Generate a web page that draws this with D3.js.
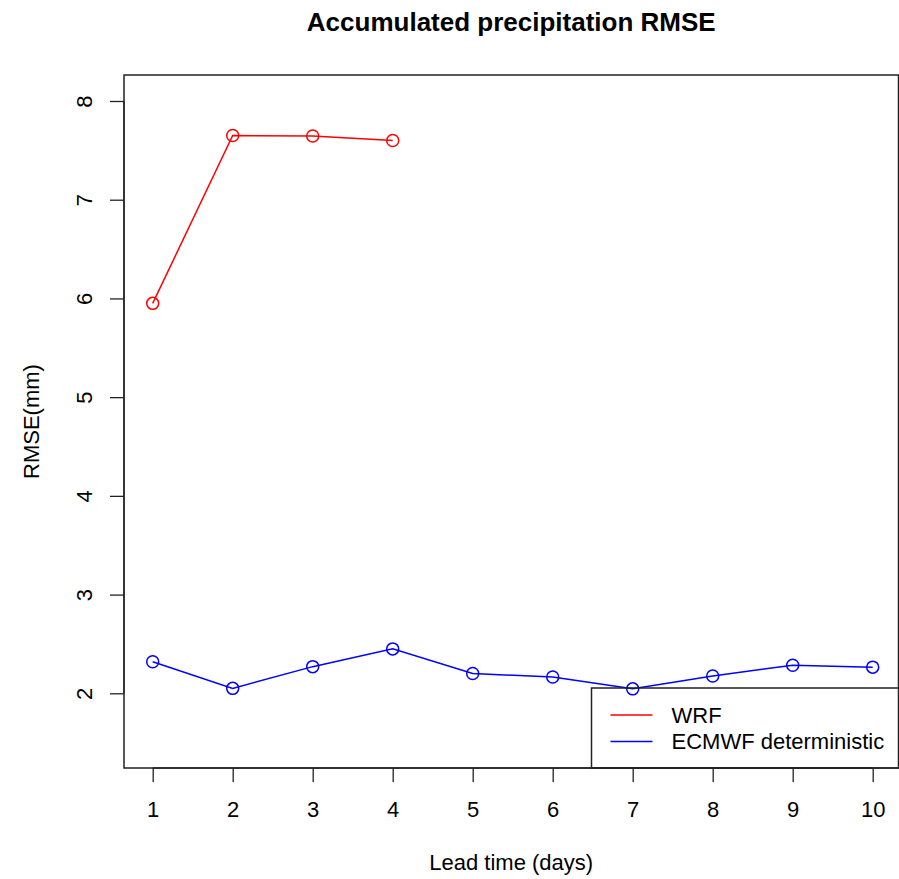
<!DOCTYPE html>
<html>
<head>
<meta charset="utf-8">
<script src="https://cdn.jsdelivr.net/npm/d3@7"></script>
<style>
  body { margin: 0; background: #fff; }
  svg text { font-family: "Liberation Sans", Arial, Helvetica, sans-serif; fill: #000; }
</style>
</head>
<body>
<svg id="chart" width="899" height="879"></svg>
<script>
// lead time in days
var leadDays = [1, 2, 3, 4, 5, 6, 7, 8, 9, 10];
var wrfRmse = [5.95, 7.65, 7.645, 7.60];
var ecmwfRmse = [2.32, 2.05, 2.27, 2.45, 2.20, 2.165, 2.045, 2.175, 2.285, 2.265];
var xTicks = [1, 2, 3, 4, 5, 6, 7, 8, 9, 10];
var yTicks = [2, 3, 4, 5, 6, 7, 8];
var seriesNames = ["WRF", "ECMWF deterministic"];
var seriesColors = ["#ff0000", "#0000ff"];

var box = {left: 124, right: 898.5, top: 75, bottom: 768};

var svg = d3.select("#chart");

var x = d3.scaleLinear().domain([1, 10]).range([152.7, 872.7]);
var y = d3.scaleLinear().domain([2, 8]).range([693.3, 101]);

// title
svg.append("text")
  .attr("x", (box.left + box.right) / 2)
  .attr("y", 31)
  .attr("text-anchor", "middle")
  .style("font-size", "26px")
  .style("font-weight", "bold")
  .text("Accumulated precipitation RMSE");

// axes
var xAxis = d3.axisBottom(x).tickValues(xTicks).tickSize(14).tickPadding(19).tickFormat(d3.format("d"));
var gx = svg.append("g").attr("transform", `translate(0,${box.bottom})`).call(xAxis);
gx.select(".domain").attr("d", `M${x(1)},0H${x(10)}`);

var yAxis = d3.axisLeft(y).tickValues(yTicks).tickSize(14).tickFormat(d3.format("d"));
var gy = svg.append("g").attr("transform", `translate(${box.left},0)`).call(yAxis);
gy.select(".domain").attr("d", `M0,${y(2)}V${y(8)}`);
gy.selectAll(".tick text")
  .attr("x", 0).attr("dy", 0)
  .attr("text-anchor", "middle")
  .attr("transform", "translate(-32,0) rotate(-90)");

[gx, gy].forEach(function(g) {
  g.selectAll(".domain").attr("stroke", "#222").attr("stroke-width", 1.3);
  g.selectAll(".tick line").attr("stroke", "#222").attr("stroke-width", 1.3);
  g.selectAll(".tick text").style("font-size", "22px").attr("fill", "#000");
});

// plot frame
svg.append("rect")
  .attr("x", box.left).attr("y", box.top)
  .attr("width", box.right - box.left).attr("height", box.bottom - box.top)
  .attr("fill", "none").attr("stroke", "#222").attr("stroke-width", 1.5);

// axis labels
svg.append("text")
  .attr("x", (box.left + box.right) / 2)
  .attr("y", 870)
  .attr("text-anchor", "middle")
  .style("font-size", "22px")
  .text("Lead time (days)");

svg.append("text")
  .attr("transform", `translate(39,${(box.top + box.bottom) / 2}) rotate(-90)`)
  .attr("text-anchor", "middle")
  .style("font-size", "22px")
  .text("RMSE(mm)");

// series
var line = d3.line().x(function(d) { return x(d.day); }).y(function(d) { return y(d.v); });
var series = [
  wrfRmse.map(function(v, i) { return {day: leadDays[i], v: v}; }),
  ecmwfRmse.map(function(v, i) { return {day: leadDays[i], v: v}; })
];

series.forEach(function(data, k) {
  svg.append("path").datum(data)
    .attr("d", line)
    .attr("fill", "none")
    .attr("stroke", seriesColors[k])
    .attr("stroke-width", 1.5);
  svg.selectAll(null).data(data).enter().append("circle")
    .attr("cx", function(d) { return x(d.day); })
    .attr("cy", function(d) { return y(d.v); })
    .attr("r", 6)
    .attr("fill", "none")
    .attr("stroke", seriesColors[k])
    .attr("stroke-width", 1.5);
});

// legend
var lg = svg.append("g").attr("transform", "translate(591.5,688)");
lg.append("rect")
  .attr("width", 310).attr("height", box.bottom - 688)
  .attr("fill", "none").attr("stroke", "#222").attr("stroke-width", 1.5);
seriesNames.forEach(function(name, i) {
  var ly = 27 + i * 26.5;
  lg.append("line")
    .attr("x1", 19).attr("x2", 61)
    .attr("y1", ly).attr("y2", ly)
    .attr("stroke", seriesColors[i]).attr("stroke-width", 1.5);
  lg.append("text")
    .attr("x", 80).attr("y", ly)
    .attr("dy", "0.35em")
    .style("font-size", "22px")
    .text(name);
});
</script>
</body>
</html>
